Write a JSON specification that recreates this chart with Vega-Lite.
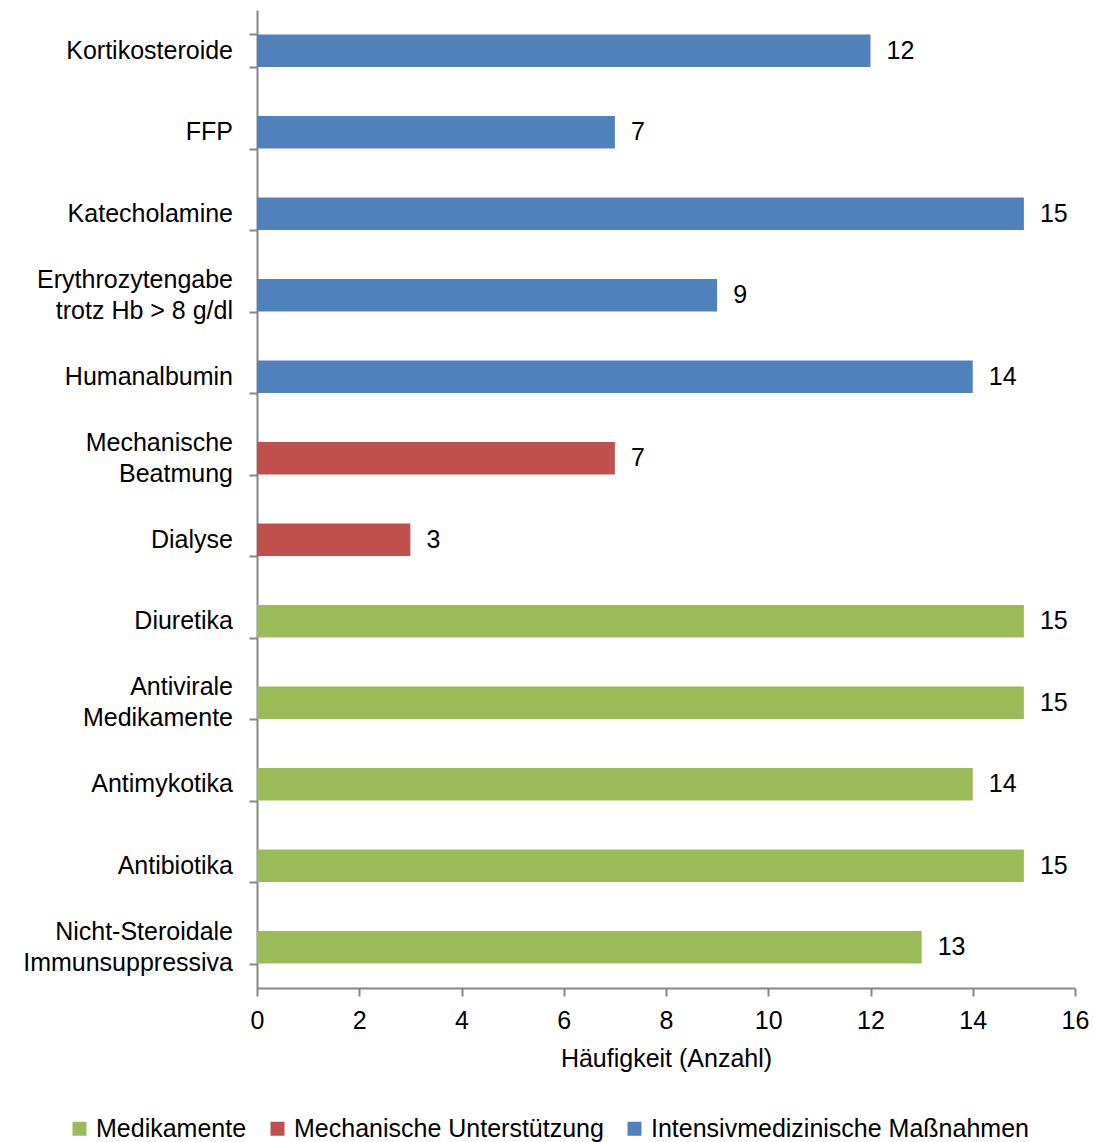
{
  "$schema": "https://vega.github.io/schema/vega-lite/v6.json",
  "width": 818,
  "height": 978,
  "autosize": {"type": "none"},
  "padding": {"left": 257, "top": 10, "right": 19, "bottom": 154},
  "background": "white",
  "config": {
    "view": {"stroke": null},
    "font": "Liberation Sans",
    "axis": {"grid": false, "domainColor": "#868686", "tickColor": "#868686", "labelColor": "#000000", "titleColor": "#000000", "labelFont": "Liberation Sans", "titleFont": "Liberation Sans", "labelFontSize": 25, "titleFontSize": 25, "titleFontWeight": "normal", "domainWidth": 2, "tickWidth": 2}
  },
  "data": {
    "values": [
      {"massnahme": "Kortikosteroide", "anzahl": 12, "gruppe": "Intensivmedizinische Maßnahmen"},
      {"massnahme": "FFP", "anzahl": 7, "gruppe": "Intensivmedizinische Maßnahmen"},
      {"massnahme": "Katecholamine", "anzahl": 15, "gruppe": "Intensivmedizinische Maßnahmen"},
      {"massnahme": "Erythrozytengabe|trotz Hb > 8 g/dl", "anzahl": 9, "gruppe": "Intensivmedizinische Maßnahmen"},
      {"massnahme": "Humanalbumin", "anzahl": 14, "gruppe": "Intensivmedizinische Maßnahmen"},
      {"massnahme": "Mechanische|Beatmung", "anzahl": 7, "gruppe": "Mechanische Unterstützung"},
      {"massnahme": "Dialyse", "anzahl": 3, "gruppe": "Mechanische Unterstützung"},
      {"massnahme": "Diuretika", "anzahl": 15, "gruppe": "Medikamente"},
      {"massnahme": "Antivirale|Medikamente", "anzahl": 15, "gruppe": "Medikamente"},
      {"massnahme": "Antimykotika", "anzahl": 14, "gruppe": "Medikamente"},
      {"massnahme": "Antibiotika", "anzahl": 15, "gruppe": "Medikamente"},
      {"massnahme": "Nicht-Steroidale|Immunsuppressiva", "anzahl": 13, "gruppe": "Medikamente"}
    ]
  },
  "encoding": {
    "y": {
      "field": "massnahme",
      "type": "nominal",
      "sort": null,
      "scale": {"paddingInner": 0.6, "paddingOuter": 0.3},
      "axis": {
        "title": null,
        "labels": false,
        "tickBand": "extent",
        "tickSize": 8
      }
    },
    "x": {
      "field": "anzahl",
      "type": "quantitative",
      "scale": {"domain": [0, 16], "nice": false},
      "axis": {"title": "Häufigkeit (Anzahl)", "values": [0, 2, 4, 6, 8, 10, 12, 14, 16], "tickSize": 8, "labelPadding": 12, "titlePadding": 13, "labelFlush": false}
    }
  },
  "layer": [
    {
      "mark": {"type": "bar"},
      "encoding": {
        "color": {
          "field": "gruppe",
          "type": "nominal",
          "scale": {"domain": ["Medikamente", "Mechanische Unterstützung", "Intensivmedizinische Maßnahmen"], "range": ["#9BBB59", "#C0504D", "#4F81BD"]},
          "legend": {"title": null, "orient": "none", "direction": "horizontal", "legendX": -190, "legendY": 1106, "symbolType": "square", "symbolSize": 196, "symbolStrokeWidth": 0, "labelFontSize": 25, "labelFont": "Liberation Sans", "labelColor": "#000000", "labelOffset": 4, "columnPadding": 18, "labelLimit": 500}
        }
      }
    },
    {
      "mark": {"type": "text", "align": "left", "baseline": "middle", "dx": 16, "fontSize": 25, "font": "Liberation Sans", "color": "#000000"},
      "encoding": {"text": {"field": "anzahl", "type": "quantitative"}}
    },
    {
      "transform": [{"filter": "indexof(datum.massnahme, '|') < 0"}],
      "mark": {"type": "text", "align": "right", "baseline": "middle", "dx": -24, "fontSize": 25, "font": "Liberation Sans", "color": "#000000"},
      "encoding": {"x": {"datum": 0}, "text": {"field": "massnahme", "type": "nominal"}}
    },
    {
      "transform": [{"filter": "indexof(datum.massnahme, '|') >= 0"}],
      "mark": {"type": "text", "align": "right", "baseline": "middle", "dx": -24, "dy": -15.5, "lineBreak": "|", "lineHeight": 31, "fontSize": 25, "font": "Liberation Sans", "color": "#000000"},
      "encoding": {"x": {"datum": 0}, "text": {"field": "massnahme", "type": "nominal"}}
    }
  ]
}
